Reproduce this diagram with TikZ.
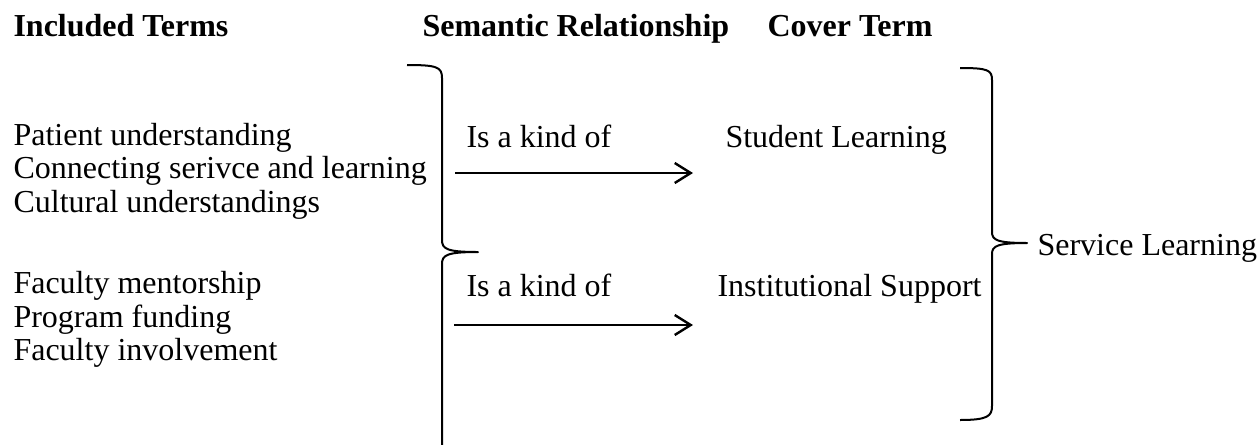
\documentclass[tikz,border=0pt]{standalone}
\usepackage{fontspec}
\setmainfont{Liberation Serif}
\usetikzlibrary{arrows.meta}

\tikzset{
    term/.style={anchor=base west, inner sep=0pt, font=\fontsize{12}{14}\selectfont},
    heading/.style={term, font=\fontsize{12}{14}\selectfont\bfseries},
    bracket/.style={line width=0.75pt, line join=round},
    kindarrow/.style={line width=0.9pt, -{Straight Barb[length=6pt,width=7.5pt]}},
}

\begin{document}
\begin{tikzpicture}[x=0.375pt, y=-0.375pt]
    \useasboundingbox (0,0) rectangle (1258,444);

    % Headings
    \node[heading] (included) at (13,36) {Included Terms};
    \node[heading] (semantic) at (422,36) {Semantic Relationship};
    \node[heading] (cover) at (767,36) {Cover Term};

    % Included terms
    \node[term] (patient) at (13,145) {Patient understanding};
    \node[term] (connecting) at (13,178) {Connecting serivce and learning};
    \node[term] (cultural) at (13,212) {Cultural understandings};
    \node[term] (mentorship) at (13,293) {Faculty mentorship};
    \node[term] (funding) at (13,327) {Program funding};
    \node[term] (involvement) at (13,360) {Faculty involvement};

    % Left bracket
    \coordinate (ltop) at (407,65);
    \coordinate (ltip) at (478,252);
    \coordinate (lbot) at (442,446);
    \draw[bracket] (ltop) .. controls (437,65) and (442,67) .. (442,78)
        -- (442,240) .. controls (442,249) and (447,252) .. (ltip)
        .. controls (447,252) and (442,255) .. (442,264) -- (lbot);

    % Relationships
    \node[term] (kind1) at (466,147) {Is a kind of};
    \node[term] (kind2) at (466,296) {Is a kind of};

    \coordinate (arrow1start) at (455,173);
    \coordinate (arrow1end) at (693,173);
    \coordinate (arrow2start) at (454,325);
    \coordinate (arrow2end) at (693,325);
    \draw[kindarrow] (arrow1start) -- (arrow1end);
    \draw[kindarrow] (arrow2start) -- (arrow2end);

    % Cover terms
    \node[term] (student) at (725,147) {Student Learning};
    \node[term] (institutional) at (717,296) {Institutional Support};

    % Right bracket
    \coordinate (rtop) at (960,68);
    \coordinate (rtip) at (1027,243);
    \coordinate (rbot) at (960,420);
    \draw[bracket] (rtop) .. controls (988,68) and (992,70) .. (992,80)
        -- (992,232) .. controls (992,240) and (997,243) .. (rtip)
        .. controls (997,243) and (992,246) .. (992,254)
        -- (992,406) .. controls (992,416) and (988,420) .. (rbot);

    \node[term] (service) at (1037,255) {Service Learning};

\end{tikzpicture}
\end{document}
